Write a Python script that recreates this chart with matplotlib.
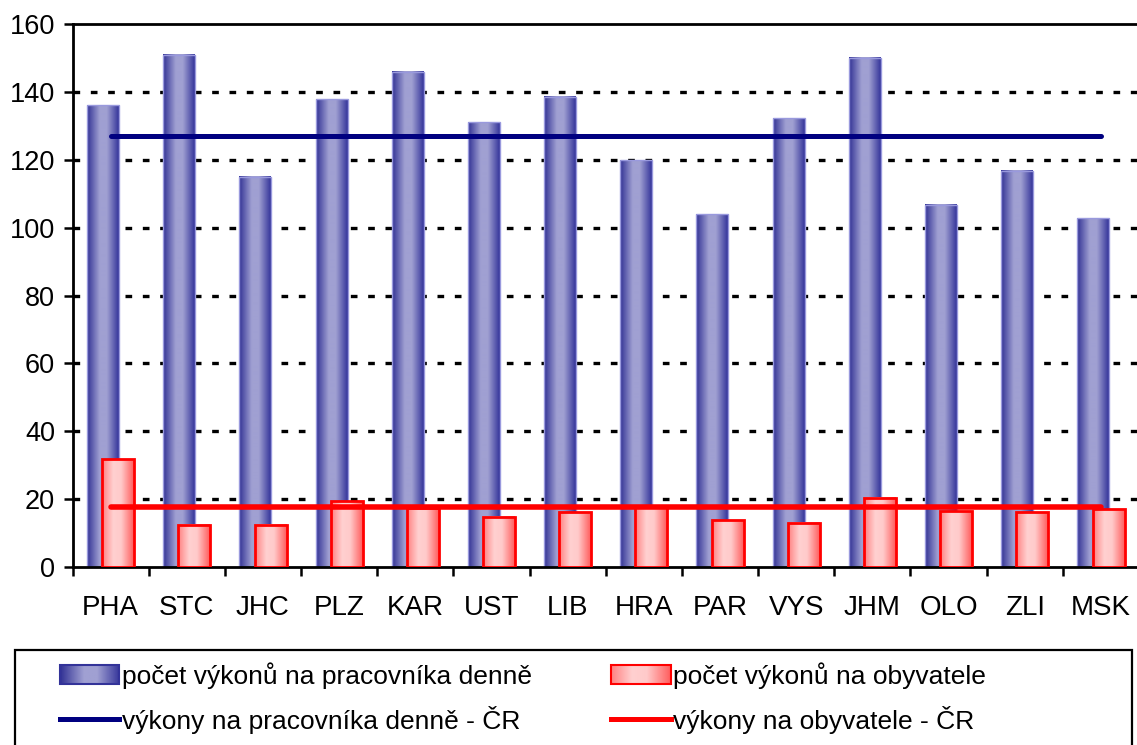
import numpy as np
import matplotlib
matplotlib.use("Agg")
import matplotlib.pyplot as plt
from matplotlib.patches import Rectangle
from matplotlib.lines import Line2D
from matplotlib.legend_handler import HandlerPatch
from matplotlib.colors import LinearSegmentedColormap

plt.rcParams['font.family'] = ['Liberation Sans', 'DejaVu Sans']

categories = ["PHA", "STC", "JHC", "PLZ", "KAR", "UST", "LIB", "HRA", "PAR", "VYS", "JHM", "OLO", "ZLI", "MSK"]
worker_daily = [136.1, 150.9, 115.0, 137.8, 145.9, 131.1, 138.6, 119.9, 103.9, 132.3, 150.1, 106.7, 116.8, 102.7]
per_resident = [31.8, 12.4, 12.4, 19.4, 17.5, 14.8, 16.1, 17.6, 13.8, 13.0, 20.4, 16.5, 16.2, 17.0]
cr_worker_daily = 127.1
cr_per_resident = 17.7
yticks = [0, 20, 40, 60, 80, 100, 120, 140, 160]
labels = ["počet výkonů na pracovníka denně", "počet výkonů na obyvatele",
          "výkony na pracovníka denně - ČR", "výkony na obyvatele - ČR"]

W, H = 1137, 745
fig = plt.figure(figsize=(W / 100, H / 100), dpi=100)
ax = fig.add_axes([72.5 / W, 1 - 567 / H, (1139 - 72.5) / W, (567 - 24) / H])

x = np.arange(len(categories))
bw = 0.42
off = 0.1

blue_cmap = LinearSegmentedColormap.from_list(
    "b", [(0, "#303094"), (0.4, "#A0A0D2"), (0.62, "#A0A0D2"), (1, "#34349A")], N=256)
red_cmap = LinearSegmentedColormap.from_list(
    "r", [(0, "#FF8080"), (0.35, "#FFD0D0"), (0.6, "#FFCACA"), (1, "#FF5C5C")], N=256)
grad = np.linspace(0, 1, 256).reshape(1, -1)

ax.set_xlim(-0.5, len(categories) - 0.5)
ax.set_ylim(0, 160)

# grid
for yv in yticks[1:-1]:
    ax.axhline(yv, color="black", lw=2.4, linestyle=(0, (2.0, 3.2)), zorder=1)

def grad_bars(xpos, vals, cmap, edgecolor, lw, z):
    bars = ax.bar(xpos, vals, bw, facecolor="none", edgecolor=edgecolor, linewidth=lw, zorder=z + 0.2)
    for b in bars:
        ax.imshow(grad, cmap=cmap, aspect="auto",
                  extent=(b.get_x(), b.get_x() + b.get_width(), 0, b.get_height()),
                  zorder=z, interpolation="bilinear")
    return bars

grad_bars(x - off, worker_daily, blue_cmap, "#9999DD", 1.0, 2)
grad_bars(x + off, per_resident, red_cmap, "#FF0000", 2.0, 3)

ax.plot([x[0], x[-1]], [cr_worker_daily] * 2, color="#000080", lw=3.6, zorder=5, solid_capstyle="round")
ax.plot([x[0], x[-1]], [cr_per_resident] * 2, color="#FF0000", lw=4.0, zorder=5, solid_capstyle="round")

ax.set_xlim(-0.5, len(categories) - 0.5)
ax.set_ylim(0, 160)

ax.set_yticks(yticks)
ax.set_yticklabels([str(v) for v in yticks], fontsize=19.5)
ax.set_xticks(x)
ax.set_xticklabels(categories, fontsize=20)
ax.set_xticks(np.arange(-0.5, len(categories), 1), minor=True)
ax.tick_params(axis="x", which="major", length=0, pad=20)
ax.tick_params(axis="x", which="minor", length=6.5, width=1.8, direction="out")
ax.tick_params(axis="y", which="major", length=6.5, width=1.8, direction="out", pad=6)

for s in ["left", "bottom", "top"]:
    ax.spines[s].set_linewidth(2.0)
    ax.spines[s].set_color("black")
ax.spines["right"].set_visible(False)

# legend box
fig.patches.append(Rectangle((15 / W, -0.05), (1132 - 15) / W, 0.05 + (H - 650) / H,
                             transform=fig.transFigure, facecolor="white", edgecolor="black",
                             lw=1.6, zorder=0))

class GradHandler(HandlerPatch):
    def __init__(self, cmap, edge, lw):
        super().__init__()
        self.cmap, self.edge, self.lw = cmap, edge, lw
    def create_artists(self, legend, orig_handle, xdescent, ydescent, width, height, fontsize, trans):
        from matplotlib.image import BboxImage
        from matplotlib.transforms import Bbox, TransformedBbox
        arts = []
        bb = TransformedBbox(Bbox.from_bounds(-xdescent, -ydescent, width, height), trans)
        im = BboxImage(bb, cmap=self.cmap, interpolation="bilinear")
        im.set_data(grad)
        arts.append(im)
        r = Rectangle((-xdescent, -ydescent), width, height, facecolor="none",
                      edgecolor=self.edge, lw=self.lw, transform=trans)
        arts.append(r)
        return arts

h1 = Rectangle((0, 0), 1, 1, label=labels[0])
h2 = Rectangle((0, 0), 1, 1, label=labels[1])
h3 = Line2D([], [], color="#000080", lw=3.6, label=labels[2])
h4 = Line2D([], [], color="#FF0000", lw=3.6, label=labels[3])

leg = fig.legend(handles=[h1, h3, h2, h4], ncol=2, frameon=False, fontsize=19,
                 loc="upper left", bbox_to_anchor=(60 / W, 1 - 662 / H), borderpad=0,
                 borderaxespad=0,
                 handlelength=2.25, handleheight=0.75, handletextpad=0.1,
                 columnspacing=3.0, labelspacing=0.65,
                 handler_map={h1: GradHandler(blue_cmap, "#333399", 1.5),
                              h2: GradHandler(red_cmap, "#FF0000", 1.5)})

fig.savefig("out.png", dpi=100)
